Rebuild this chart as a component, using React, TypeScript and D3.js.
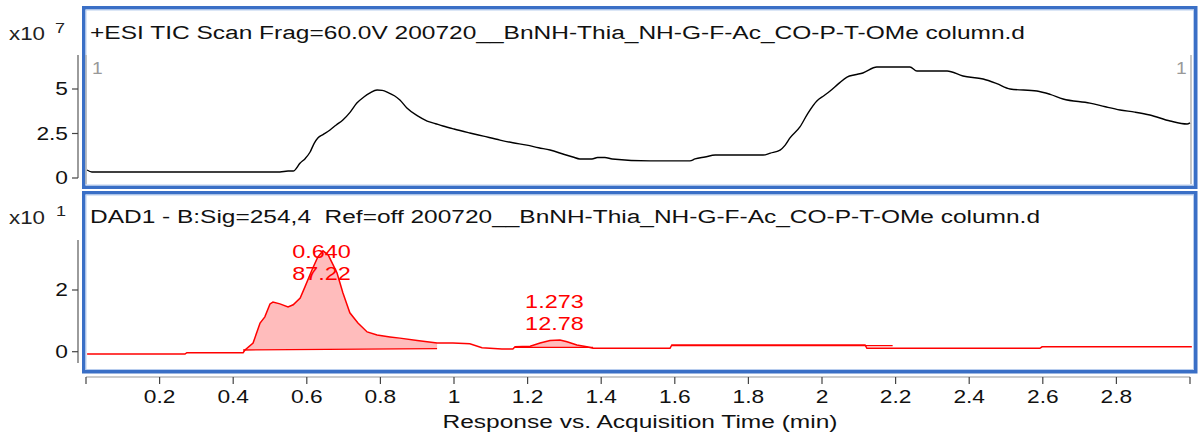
import React from "react";
import * as d3 from "d3";

// TIC trace (time min, intensity x10^7)
const ticTime = [0.003, 0.016, 0.527, 0.549, 0.563, 0.582, 0.596, 0.609, 0.62, 0.63, 0.645, 0.663, 0.68, 0.698, 0.718, 0.736, 0.755, 0.772, 0.791, 0.805, 0.821, 0.838, 0.853, 0.872, 0.9, 0.927, 0.95, 0.97, 1.0, 1.043, 1.08, 1.125, 1.16, 1.198, 1.23, 1.261, 1.3, 1.323, 1.342, 1.375, 1.39, 1.41, 1.43, 1.533, 1.641, 1.655, 1.682, 1.71, 1.84, 1.86, 1.886, 1.9, 1.913, 1.94, 1.962, 1.986, 2.005, 2.022, 2.045, 2.068, 2.09, 2.111, 2.149, 2.239, 2.258, 2.34, 2.383, 2.438, 2.475, 2.511, 2.584, 2.62, 2.655, 2.728, 2.77, 2.81, 2.85, 2.891, 2.946, 2.992, 3.0];
const ticValue = [0.45, 0.34, 0.34, 0.39, 0.39, 0.84, 1.1, 1.46, 1.95, 2.25, 2.45, 2.7, 2.98, 3.26, 3.7, 4.21, 4.55, 4.78, 4.94, 4.92, 4.8, 4.62, 4.38, 3.93, 3.5, 3.2, 3.05, 2.92, 2.75, 2.53, 2.35, 2.13, 1.98, 1.85, 1.7, 1.57, 1.32, 1.18, 1.07, 1.07, 1.15, 1.15, 1.07, 0.96, 0.96, 1.07, 1.18, 1.29, 1.29, 1.4, 1.57, 1.85, 2.25, 2.87, 3.65, 4.33, 4.62, 4.89, 5.3, 5.67, 5.8, 5.9, 6.24, 6.24, 6.01, 6.01, 5.73, 5.56, 5.3, 5.0, 4.89, 4.7, 4.44, 4.21, 4.0, 3.82, 3.7, 3.54, 3.2, 3.03, 3.1];

// DAD trace (time min, absorbance x10^1)
const dadTime = [0.003, 0.269, 0.274, 0.427, 0.432, 0.454, 0.473, 0.486, 0.5, 0.508, 0.527, 0.549, 0.563, 0.582, 0.595, 0.614, 0.63, 0.644, 0.658, 0.682, 0.698, 0.717, 0.739, 0.764, 0.791, 0.826, 0.853, 0.9, 0.954, 0.997, 1.043, 1.076, 1.13, 1.16, 1.166, 1.207, 1.234, 1.261, 1.288, 1.307, 1.334, 1.361, 1.378, 1.587, 1.592, 2.117, 2.122, 2.592, 2.598, 3.005];
const dadValue = [-0.075, -0.075, -0.03, -0.03, 0.055, 0.28, 0.93, 1.13, 1.55, 1.61, 1.55, 1.45, 1.52, 1.74, 2.1, 2.65, 3.07, 3.27, 3.14, 2.56, 1.91, 1.26, 0.93, 0.64, 0.54, 0.48, 0.44, 0.36, 0.28, 0.28, 0.26, 0.13, 0.09, 0.09, 0.16, 0.18, 0.28, 0.36, 0.38, 0.32, 0.22, 0.16, 0.11, 0.11, 0.22, 0.22, 0.11, 0.11, 0.16, 0.16];

// integrated peaks: start/end time, baseline start/end value, labels
const peakStart = [0.427, 1.166, 1.592];
const peakEnd = [0.954, 1.378, 2.192];
const peakBaseStart = [0.055, 0.14, 0.2];
const peakBaseEnd = [0.1, 0.14, 0.2];
const peakRT = ["0.640", "1.273", ""];
const peakArea = ["87.22", "12.78", ""];
const peakLabelTime = [0.64, 1.273, 0];

const xTicks = [0, 0.2, 0.4, 0.6, 0.8, 1, 1.2, 1.4, 1.6, 1.8, 2, 2.2, 2.4, 2.6, 2.8, 3];
const xTickLabels = ["", "0.2", "0.4", "0.6", "0.8", "1", "1.2", "1.4", "1.6", "1.8", "2", "2.2", "2.4", "2.6", "2.8", ""];
const ticYTicks = [0, 2.5, 5];
const ticYLabels = ["0", "2.5", "5"];
const dadYTicks = [0, 2];
const dadYLabels = ["0", "2"];

const ticTitle = "+ESI TIC Scan Frag=60.0V 200720__BnNH-Thia_NH-G-F-Ac_CO-P-T-OMe column.d";
const dadTitle = "DAD1 - B:Sig=254,4  Ref=off 200720__BnNH-Thia_NH-G-F-Ac_CO-P-T-OMe column.d";
const xTitle = "Response vs. Acquisition Time (min)";

// layout (pixel baselines for the peak annotation text)
const LABEL_Y = [258, 308];
const FONT = "'Liberation Sans', Arial, sans-serif";
const BLUE = "#3a6fc6";
const RED = "#ff0000";
const SX = 1.34;

type TProps = { x: number; y: number; size: number; fill: string; anchor?: string; sx?: number; children: React.ReactNode };
function T({ x, y, size, fill, anchor = "start", sx = SX, children }: TProps) {
  return (
    <text transform={`translate(${x},${y}) scale(${sx},1)`} fontSize={size} fill={fill} textAnchor={anchor} style={{ whiteSpace: "pre" }}>
      {children}
    </text>
  );
}

export default function App() {
  const x = d3.scaleLinear().domain([0, 3]).range([86, 1190]);
  const yT = d3.scaleLinear().domain([0, 5]).range([178, 89]);
  const yD = d3.scaleLinear().domain([0, 2]).range([351.7, 290]);

  const tic = ticTime.map((t, i) => [t, ticValue[i]] as [number, number]);
  const dad = dadTime.map((t, i) => [t, dadValue[i]] as [number, number]);

  const ticLine = d3.line<[number, number]>().x(d => x(d[0])).y(d => yT(d[1])).curve(d3.curveMonotoneX);
  const dadLine = d3.line<[number, number]>().x(d => x(d[0])).y(d => yD(d[1]));

  const interp = (t: number) => {
    const i = d3.bisector((d: [number, number]) => d[0]).right(dad, t);
    if (i <= 0) return dad[0][1];
    if (i >= dad.length) return dad[dad.length - 1][1];
    const a = dad[i - 1], b = dad[i];
    return a[1] + (b[1] - a[1]) * (t - a[0]) / (b[0] - a[0]);
  };

  const peaks = peakStart.map((s, k) => {
    const e = peakEnd[k];
    const base = (t: number) => peakBaseStart[k] + (peakBaseEnd[k] - peakBaseStart[k]) * (t - s) / (e - s);
    const ts = [s, ...dadTime.filter(t => t > s && t < e), e];
    const pts = ts.map(t => ({ t, top: Math.max(interp(t), base(t)), b: base(t) }));
    const area = d3.area<{ t: number; top: number; b: number }>()
      .x(d => x(d.t)).y0(d => yD(d.b)).y1(d => yD(d.top));
    return { d: area(pts) as string, base: [[s, base(s)], [e, base(e)]] as [number, number][] };
  });

  const panel = (y0: number, y1: number) => (
    <g>
      <rect x={83.75} y={y0 + 1.75} width={1112} height={y1 - y0 - 3.5} fill="none" stroke={BLUE} strokeWidth={3.5} />
      <rect x={86} y={y0 + 4} width={1107.5} height={y1 - y0 - 8} fill="none" stroke="#b8cdee" strokeWidth={1} />
    </g>
  );

  return (
    <svg width={1203} height={439} style={{ position: "absolute", left: 0, top: 0, background: "#fff" }} fontFamily={FONT}>
      <rect width={1203} height={439} fill="#fff" />
      {panel(6, 189)}
      {panel(191, 373.5)}

      {/* TIC panel */}
      <T x={9} y={40} size={18} fill="#222" sx={1.24}>x10</T>
      <T x={55} y={33} size={15} fill="#222" sx={1.2}>7</T>
      <text x={90} y={39} fontSize={17.6} fill="#111" textLength={935} lengthAdjust="spacingAndGlyphs">{ticTitle}</text>
      <line x1={78} x2={78} y1={55} y2={178} stroke="#666" strokeWidth={1.3} />
      {ticYTicks.map((v, i) => (
        <g key={i}>
          <line x1={72} x2={78} y1={yT(v)} y2={yT(v)} stroke="#444" strokeWidth={1.2} />
          <T x={68} y={yT(v) + 6} size={17.5} anchor="end" fill="#111" sx={1.3}>{ticYLabels[i]}</T>
        </g>
      ))}
      <line x1={86} x2={86} y1={55} y2={184} stroke="#aaa" strokeWidth={1.3} />
      <line x1={1191} x2={1191} y1={55} y2={184} stroke="#aaa" strokeWidth={1.3} />
      <T x={92} y={74} size={16} fill="#999" sx={1.2}>1</T>
      <T x={1176} y={74} size={16} fill="#999" sx={1.2}>1</T>
      <path d={ticLine(tic) as string} fill="none" stroke="#000" strokeWidth={1.4} />

      {/* DAD panel */}
      <T x={9} y={224} size={18} fill="#222" sx={1.24}>x10</T>
      <T x={56} y={216} size={15} fill="#222" sx={1.2}>1</T>
      <text x={90} y={223} fontSize={17.6} fill="#111" textLength={950} lengthAdjust="spacingAndGlyphs" style={{ whiteSpace: "pre" }}>{dadTitle}</text>
      <line x1={78} x2={78} y1={240} y2={363} stroke="#666" strokeWidth={1.3} />
      {dadYTicks.map((v, i) => (
        <g key={i}>
          <line x1={72} x2={78} y1={yD(v)} y2={yD(v)} stroke="#444" strokeWidth={1.2} />
          <T x={68} y={yD(v) + 6} size={17.5} anchor="end" fill="#111" sx={1.3}>{dadYLabels[i]}</T>
        </g>
      ))}
      {peaks.map((p, k) => (
        <g key={k}>
          <path d={p.d} fill="#ffbcbc" stroke="none" />
          <path d={dadLine(p.base) as string} fill="none" stroke={RED} strokeWidth={1.3} />
        </g>
      ))}
      <path d={dadLine(dad) as string} fill="none" stroke={RED} strokeWidth={1.5} />
      {peakRT.map((rt, k) => rt ? (
        <g key={k}>
          <T x={x(peakLabelTime[k])} y={LABEL_Y[k]} size={17.5} anchor="middle" fill={RED}>{rt}</T>
          <T x={x(peakLabelTime[k])} y={LABEL_Y[k] + 22} size={17.5} anchor="middle" fill={RED}>{peakArea[k]}</T>
        </g>
      ) : null)}

      {/* X axis */}
      <line x1={86} x2={1190} y1={377} y2={377} stroke="#999" strokeWidth={1} />
      {xTicks.map((t, i) => (
        <g key={i}>
          <line x1={x(t)} x2={x(t)} y1={377} y2={384} stroke="#444" strokeWidth={1.2} />
          <T x={x(t)} y={403} size={17.5} anchor="middle" fill="#111" sx={1.3}>{xTickLabels[i]}</T>
        </g>
      ))}
      <text x={640} y={428} fontSize={18} textAnchor="middle" fill="#111" textLength={395} lengthAdjust="spacingAndGlyphs">{xTitle}</text>
    </svg>
  );
}
